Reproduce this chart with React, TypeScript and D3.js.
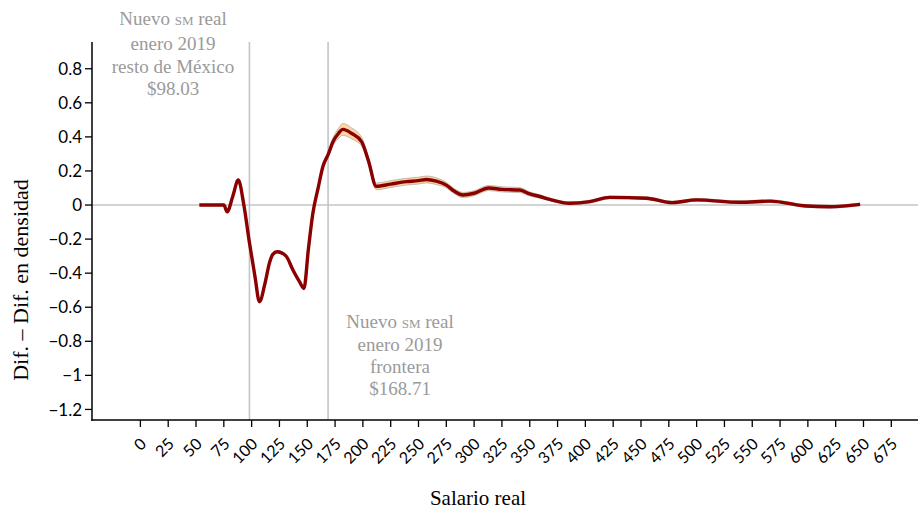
import * as d3 from "d3";

// Valores
const salario = [53, 65, 75, 78, 83, 88, 93, 98, 103, 107, 112, 116, 119, 123, 131, 137, 143, 147, 151, 155, 160, 164, 169, 173, 178, 182, 190, 199, 205, 212, 225, 239, 250, 257, 266, 275, 282, 290, 300, 313, 325, 341, 350, 359, 368, 386, 404, 422, 455, 478, 500, 539, 566, 599, 620, 647];
const difDensidad = [0, 0, 0, -0.04, 0.05, 0.147, 0.0, -0.22, -0.42, -0.568, -0.46, -0.34, -0.29, -0.274, -0.3, -0.38, -0.45, -0.49, -0.26, -0.05, 0.107, 0.225, 0.3, 0.37, 0.42, 0.444, 0.42, 0.37, 0.26, 0.11, 0.123, 0.137, 0.143, 0.15, 0.14, 0.117, 0.082, 0.059, 0.069, 0.1, 0.092, 0.088, 0.065, 0.05, 0.033, 0.01, 0.02, 0.045, 0.04, 0.014, 0.03, 0.016, 0.023, -0.006, -0.01, 0.004];
const margen = [0.004, 0.004, 0.004, 0.004, 0.004, 0.004, 0.004, 0.004, 0.004, 0.004, 0.006, 0.006, 0.006, 0.006, 0.006, 0.006, 0.006, 0.006, 0.006, 0.006, 0.006, 0.01, 0.015, 0.022, 0.03, 0.035, 0.032, 0.026, 0.022, 0.02, 0.02, 0.02, 0.02, 0.02, 0.02, 0.016, 0.015, 0.015, 0.015, 0.015, 0.015, 0.015, 0.012, 0.01, 0.008, 0.008, 0.008, 0.008, 0.008, 0.008, 0.008, 0.008, 0.008, 0.008, 0.008, 0.008];

const xTicks = d3.range(0, 700, 25);
const yTicks = [0.8, 0.6, 0.4, 0.2, 0, -0.2, -0.4, -0.6, -0.8, -1, -1.2];
const smResto = 98.03;
const smFrontera = 168.71;

const WIDTH = 921;
const HEIGHT = 513;
const LEFT = 92;
const RIGHT = 918;
const TOP = 42;
const BOTTOM = 420;

const SERIF = "'Liberation Serif', 'DejaVu Serif', serif";
const SANS = "Lato, 'Open Sans', sans-serif";
const GRIS = "#c4c4c4";
const TXT_GRIS = "#9a9a9a";

const x = d3.scaleLinear().domain([-43.5, 699]).range([LEFT, RIGHT]);
const y = d3.scaleLinear().domain([-1.262, 0.957]).range([BOTTOM, TOP]);

const fmt = (v: number) => (v < 0 ? "\u2212" : "") + d3.format("")(Math.abs(Math.round(v * 10) / 10));

export default function App() {
  const pts = salario.map((s, i) => ({ s, d: difDensidad[i], m: margen[i] }));

  const linea = d3
    .line<(typeof pts)[0]>()
    .x((p) => x(p.s))
    .y((p) => y(p.d))
    .curve(d3.curveMonotoneX);

  const area = d3
    .area<(typeof pts)[0]>()
    .x((p) => x(p.s))
    .y0((p) => y(p.d - p.m))
    .y1((p) => y(p.d + p.m))
    .curve(d3.curveMonotoneX);

  const bordeSup = d3
    .line<(typeof pts)[0]>()
    .x((p) => x(p.s))
    .y((p) => y(p.d + p.m))
    .curve(d3.curveMonotoneX);
  const bordeInf = d3
    .line<(typeof pts)[0]>()
    .x((p) => x(p.s))
    .y((p) => y(p.d - p.m))
    .curve(d3.curveMonotoneX);

  const notaResto = ["enero 2019", "resto de México", "$98.03"];
  const notaFrontera = ["enero 2019", "frontera", "$168.71"];

  return (
    <svg
      width={WIDTH}
      height={HEIGHT}
      style={{ position: "absolute", left: 0, top: 0, background: "#fff" }}
    >
      {/* referencias */}
      <line x1={LEFT} x2={RIGHT} y1={y(0)} y2={y(0)} stroke={GRIS} strokeWidth={1.6} />
      {[smResto, smFrontera].map((v) => (
        <line key={v} x1={x(v)} x2={x(v)} y1={TOP} y2={BOTTOM} stroke={GRIS} strokeWidth={1.6} />
      ))}

      {/* banda y línea */}
      <path d={area(pts) ?? ""} fill="#fdd6a2" />
      <path d={bordeSup(pts) ?? ""} fill="none" stroke="#999" strokeWidth={0.6} />
      <path d={bordeInf(pts) ?? ""} fill="none" stroke="#999" strokeWidth={0.6} />
      <path d={linea(pts) ?? ""} fill="none" stroke="#8b0000" strokeWidth={3.4} strokeLinejoin="round" />

      {/* eje y */}
      <line x1={LEFT} x2={LEFT} y1={TOP} y2={BOTTOM + 0.75} stroke="#000" strokeWidth={1.5} />
      {yTicks.map((t) => (
        <g key={t} transform={`translate(${LEFT},${y(t)})`}>
          <line x1={-7} x2={0} stroke="#000" strokeWidth={1.3} />
          <text x={-10} dy="0.36em" textAnchor="end" fontFamily={SANS} fontSize={17} fill="#000">
            {fmt(t)}
          </text>
        </g>
      ))}

      {/* eje x */}
      <line x1={LEFT - 0.75} x2={RIGHT} y1={BOTTOM} y2={BOTTOM} stroke="#000" strokeWidth={1.5} />
      {xTicks.map((t) => (
        <g key={t} transform={`translate(${x(t)},${BOTTOM})`}>
          <line y1={0} y2={7} stroke="#000" strokeWidth={1.3} />
          <text
            transform="translate(3,21) rotate(-45)"
            textAnchor="end"
            dy="0.35em"
            fontFamily={SANS}
            fontSize={16}
            fill="#000"
          >
            {t}
          </text>
        </g>
      ))}

      {/* títulos */}
      <text x={478} y={505} textAnchor="middle" fontFamily={SERIF} fontSize={21} fill="#000">
        Salario real
      </text>
      <text
        transform="translate(28,280) rotate(-90)"
        textAnchor="middle"
        fontFamily={SERIF}
        fontSize={22}
        fill="#000"
      >
        Dif. – Dif. en densidad
      </text>

      {/* anotaciones */}
      <g fontFamily={SERIF} fontSize={19} fill={TXT_GRIS} textAnchor="middle">
        <text x={173} y={25}>
          Nuevo <tspan style={{ fontVariant: "small-caps" }}>sm</tspan> real
        </text>
        {notaResto.map((l, i) => (
          <text key={l} x={173} y={50 + i * 22.5}>
            {l}
          </text>
        ))}
        <text x={400} y={328}>
          Nuevo <tspan style={{ fontVariant: "small-caps" }}>sm</tspan> real
        </text>
        {notaFrontera.map((l, i) => (
          <text key={l} x={400} y={351 + i * 22}>
            {l}
          </text>
        ))}
      </g>
    </svg>
  );
}
